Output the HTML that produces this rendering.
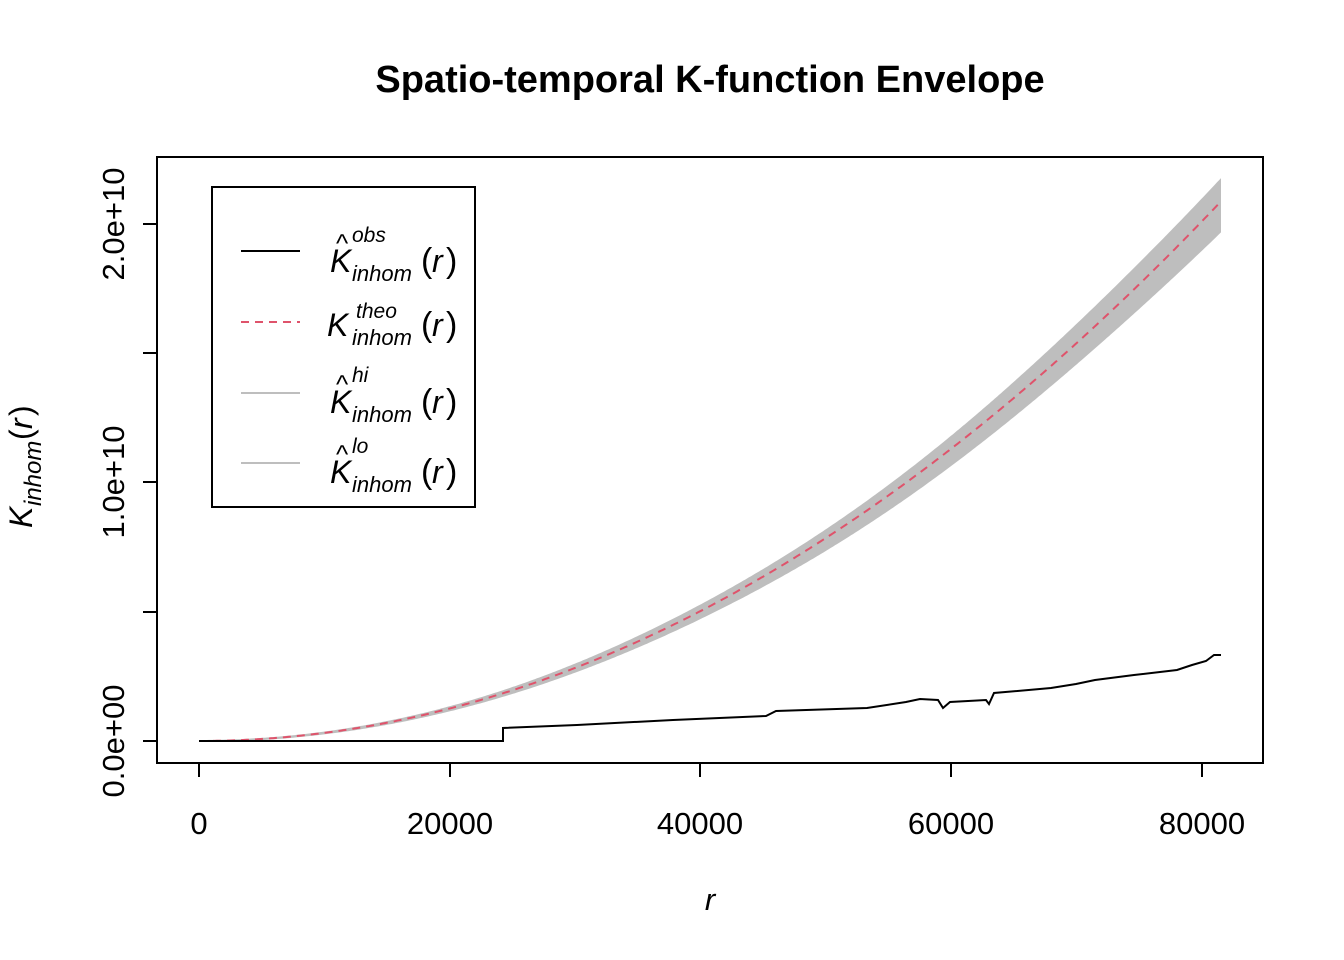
<!DOCTYPE html>
<html><head><style>body{margin:0;background:#fff}svg{display:block}text{font-family:"Liberation Sans",sans-serif}</style></head>
<body>
<svg id="s" width="1344" height="960" xmlns="http://www.w3.org/2000/svg">
<text x="710" y="92" font-size="38" font-weight="bold" text-anchor="middle">Spatio-temporal K-function Envelope</text>
<path id="env" fill="#bebebe" stroke="none"/>
<path id="theo" fill="none" stroke="#df536b" stroke-width="2" stroke-dasharray="8,6"/>
<path fill="none" stroke="#000" stroke-width="2" d="M199,741 L503,741 L503,728 L577,725 L673,720 L766,716 L776,711 L867,708 L906,702 L920,699 L938,700 L943,708 L950,702 L986,700 L989,704 L994,693 L1051,688 L1076,684 L1095,680 L1134,675 L1177,670 L1192,665 L1206,661 L1214,655 L1221,655"/>
<rect x="157" y="157" width="1106" height="606" fill="none" stroke="#000" stroke-width="2"/>
<g stroke="#000" stroke-width="2">
<line x1="199" y1="763" x2="199" y2="777"/><line x1="450" y1="763" x2="450" y2="777"/><line x1="700" y1="763" x2="700" y2="777"/><line x1="951" y1="763" x2="951" y2="777"/><line x1="1202" y1="763" x2="1202" y2="777"/>
<line x1="143" y1="741" x2="157" y2="741"/><line x1="143" y1="612" x2="157" y2="612"/><line x1="143" y1="482" x2="157" y2="482"/><line x1="143" y1="353" x2="157" y2="353"/><line x1="143" y1="224" x2="157" y2="224"/>
</g>
<g font-size="31" text-anchor="middle">
<text x="199" y="834">0</text><text x="450" y="834">20000</text><text x="700" y="834">40000</text><text x="951" y="834">60000</text><text x="1202" y="834">80000</text>
<text transform="translate(124,741) rotate(-90)">0.0e+00</text>
<text transform="translate(124,482) rotate(-90)">1.0e+10</text>
<text transform="translate(124,224) rotate(-90)">2.0e+10</text>
</g>
<text x="710" y="910" font-size="31" font-style="italic" text-anchor="middle">r</text>
<g transform="translate(32,460) rotate(-90)" font-style="italic">
<text x="-68" y="0" font-size="32">K</text><text x="-46" y="9" font-size="24">inhom</text><text x="20" y="0" font-size="32" font-style="normal">(</text><text x="31" y="0" font-size="32">r</text><text x="44" y="0" font-size="32" font-style="normal">)</text>
</g>
<rect x="212" y="187" width="263" height="320" fill="#fff" stroke="#000" stroke-width="2"/>
<line x1="241" y1="251" x2="300" y2="251" stroke="#000" stroke-width="2"/>
<line x1="241" y1="322" x2="300" y2="322" stroke="#df536b" stroke-width="2" stroke-dasharray="8,6"/>
<line x1="241" y1="393" x2="300" y2="393" stroke="#bebebe" stroke-width="2"/>
<line x1="241" y1="463" x2="300" y2="463" stroke="#bebebe" stroke-width="2"/>
<g font-style="italic">
<text x="330" y="272" font-size="32">K</text><text x="336" y="252" font-size="26" font-style="normal">^</text><text x="352" y="242" font-size="21">obs</text><text x="352" y="281" font-size="22">inhom</text><text x="421" y="272" font-size="34" font-style="normal">(</text><text x="432" y="272" font-size="32">r</text><text x="446" y="272" font-size="34" font-style="normal">)</text>
<text x="327" y="336" font-size="32">K</text><text x="356" y="318" font-size="21">theo</text><text x="352" y="345" font-size="22">inhom</text><text x="421" y="336" font-size="34" font-style="normal">(</text><text x="432" y="336" font-size="32">r</text><text x="446" y="336" font-size="34" font-style="normal">)</text>
<text x="330" y="413" font-size="32">K</text><text x="336" y="393" font-size="26" font-style="normal">^</text><text x="352" y="382" font-size="21">hi</text><text x="352" y="422" font-size="22">inhom</text><text x="421" y="413" font-size="34" font-style="normal">(</text><text x="432" y="413" font-size="32">r</text><text x="446" y="413" font-size="34" font-style="normal">)</text>
<text x="330" y="483" font-size="32">K</text><text x="336" y="463" font-size="26" font-style="normal">^</text><text x="352" y="453" font-size="21">lo</text><text x="352" y="492" font-size="22">inhom</text><text x="421" y="483" font-size="34" font-style="normal">(</text><text x="432" y="483" font-size="32">r</text><text x="446" y="483" font-size="34" font-style="normal">)</text>
</g>
<script>
(function(){
var t=[],hi=[],lo=[];
for(var x=199;x<=1222;x+=2){
 var r=(x-199)/0.0125375, h=Math.PI*r*r/1e10*258.5;
 var n=Math.sin(x*0.013)*0.004;
 t.push(x+","+(741-h).toFixed(1));
 hi.push(x+","+(741-h*(1.042+n)-1).toFixed(1));
 lo.unshift(x+","+(741-h*(0.945+n)+1).toFixed(1));
}
document.getElementById("theo").setAttribute("d","M"+t.join(" L"));
document.getElementById("env").setAttribute("d","M"+hi.join(" L")+" L"+lo.join(" L")+"Z");
})();
</script>
</svg>
</body></html>
